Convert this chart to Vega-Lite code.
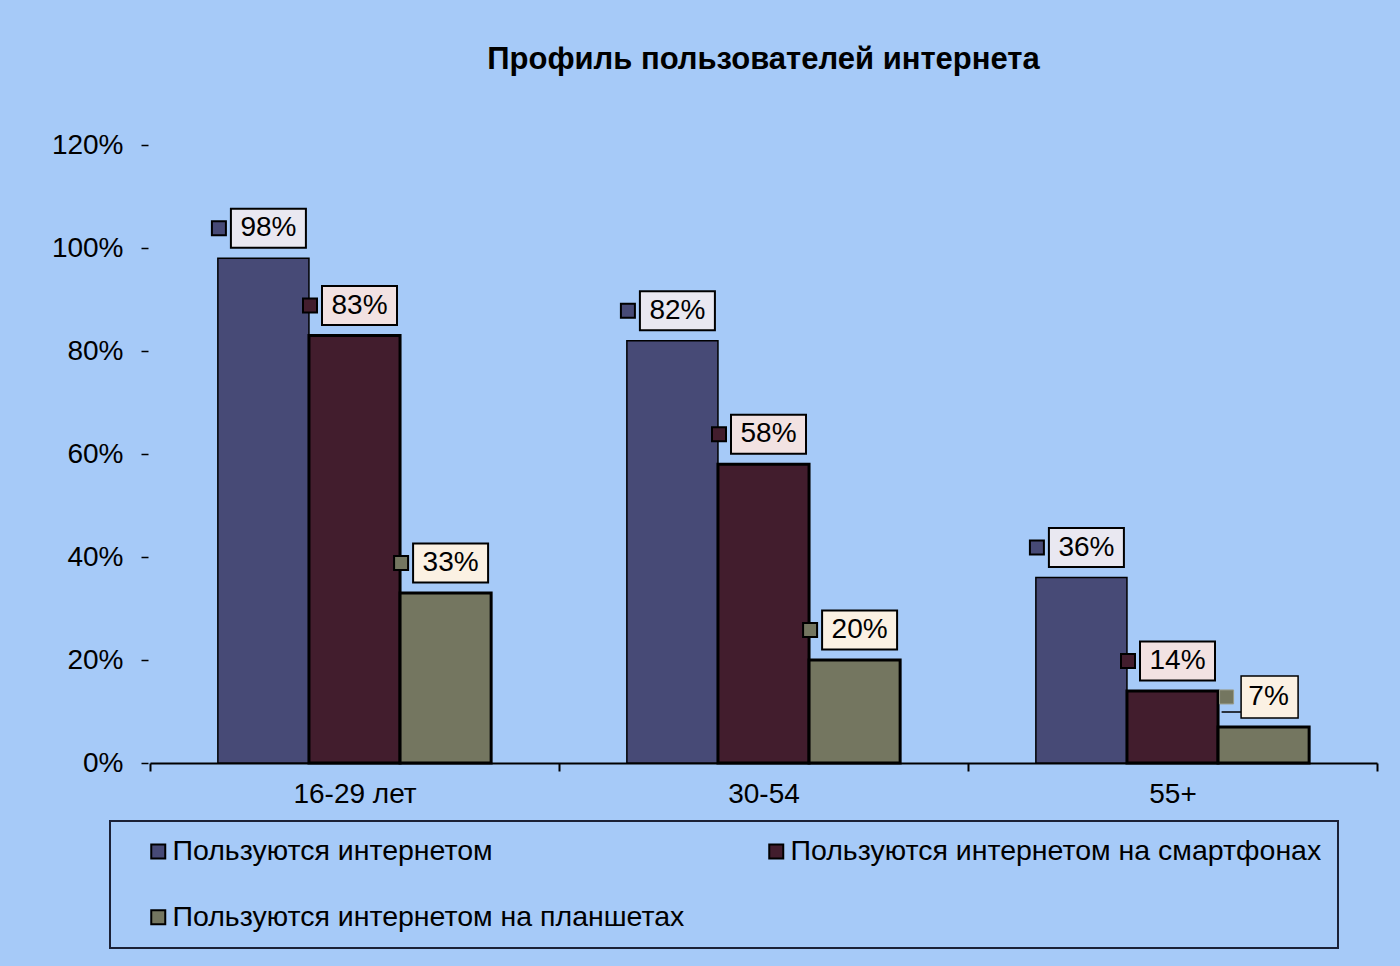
{
  "$schema": "https://vega.github.io/schema/vega-lite/v6.json",
  "width": 1227,
  "height": 618,
  "autosize": {"type": "none"},
  "padding": {"left": 150, "top": 145, "right": 23, "bottom": 203},
  "background": "#A6CAF8",
  "title": {
    "text": "Профиль пользователей интернета",
    "fontSize": 31,
    "fontWeight": "bold",
    "color": "#000000",
    "anchor": "middle",
    "frame": "group",
    "offset": 55
  },
  "data": {
    "values": [
      {"group": "16-29 лет", "series": "Пользуются интернетом", "value": 0.98},
      {"group": "16-29 лет", "series": "Пользуются интернетом на смартфонах", "value": 0.83},
      {"group": "16-29 лет", "series": "Пользуются интернетом на планшетах", "value": 0.33},
      {"group": "30-54", "series": "Пользуются интернетом", "value": 0.82},
      {"group": "30-54", "series": "Пользуются интернетом на смартфонах", "value": 0.58},
      {"group": "30-54", "series": "Пользуются интернетом на планшетах", "value": 0.20},
      {"group": "55+", "series": "Пользуются интернетом", "value": 0.36},
      {"group": "55+", "series": "Пользуются интернетом на смартфонах", "value": 0.14},
      {"group": "55+", "series": "Пользуются интернетом на планшетах", "value": 0.07}
    ]
  },
  "encoding": {
    "x": {
      "field": "group",
      "type": "nominal",
      "sort": null,
      "scale": {"paddingInner": 0, "paddingOuter": 0},
      "axis": {
        "title": null,
        "labelAngle": 0,
        "labelFontSize": 28,
        "labelColor": "#000000",
        "labelPadding": 9,
        "domainColor": "#000000",
        "domainWidth": 2,
        "tickColor": "#000000",
        "tickWidth": 2,
        "tickSize": 8,
        "tickBand": "extent"
      }
    },
    "xOffset": {
      "field": "series",
      "type": "nominal",
      "sort": null,
      "scale": {"paddingInner": 0, "paddingOuter": 0.745}
    },
    "y": {
      "field": "value",
      "type": "quantitative",
      "scale": {"domain": [0, 1.2], "nice": false},
      "axis": {
        "title": null,
        "format": ".0%",
        "values": [0, 0.2, 0.4, 0.6, 0.8, 1.0, 1.2],
        "labelFontSize": 28,
        "labelColor": "#000000",
        "labelPadding": 18,
        "offset": 2,
        "tickSize": 7,
        "tickColor": "#000000",
        "tickWidth": 1.5,
        "domain": false,
        "grid": false
      }
    }
  },
  "layer": [
    {
      "mark": {"type": "bar", "stroke": "#000000"},
      "encoding": {
        "strokeWidth": {
          "condition": {"test": "datum.series === 'Пользуются интернетом'", "value": 1.5},
          "value": 3
        },
        "fill": {
          "field": "series",
          "type": "nominal",
          "sort": null,
          "scale": {
            "domain": ["Пользуются интернетом", "Пользуются интернетом на смартфонах", "Пользуются интернетом на планшетах"],
            "range": ["#474A76", "#421D2D", "#747660"]
          },
          "legend": {
            "title": null,
            "values": ["Пользуются интернетом", "Пользуются интернетом на планшетах", "Пользуются интернетом на смартфонах"],
            "orient": "none",
            "legendX": -40,
            "legendY": 676,
            "columns": 2,
            "columnPadding": 59,
            "rowPadding": 37,
            "padding": 16,
            "symbolOffset": 18,
            "labelOffset": 0,
            "symbolType": "square",
            "symbolSize": 196,
            "symbolStrokeColor": "#000000",
            "symbolStrokeWidth": 2,
            "labelFontSize": 28.5,
            "labelColor": "#000000",
            "labelLimit": 0,
            "strokeColor": "#1B2136",
            "encode": {"legend": {"update": {"strokeWidth": {"value": 2}}}}
          }
        }
      }
    },
    {
      "transform": [{"filter": "datum.value >= 0.1"}],
      "mark": {
        "type": "point",
        "filled": true,
        "opacity": 1,
        "size": 4,
        "shape": "M-32.5,-19.5H42.5V19.5H-32.5Z",
        "stroke": "#000000",
        "strokeWidth": 2,
        "yOffset": -30
      },
      "encoding": {
        "fill": {
          "condition": [
            {"test": "datum.series === 'Пользуются интернетом'", "value": "#E9E8F1"},
            {"test": "datum.series === 'Пользуются интернетом на смартфонах'", "value": "#F2E2E2"}
          ],
          "value": "#FBF1E3"
        }
      }
    },
    {
      "transform": [{"filter": "datum.value < 0.1"}],
      "mark": {
        "type": "point",
        "filled": true,
        "opacity": 1,
        "size": 4,
        "shape": "M-22.5,-21H34.5V21H-22.5Z M-42,15H-22.5",
        "stroke": "#000000",
        "strokeWidth": 1.5,
        "yOffset": -30
      },
      "encoding": {
        "fill": {"value": "#FBF1E3"}
      }
    },
    {
      "transform": [{"filter": "datum.value >= 0.1"}],
      "mark": {
        "type": "point",
        "filled": true,
        "opacity": 1,
        "size": 4,
        "shape": "M-51.5,-7H-37.5V7H-51.5Z",
        "stroke": "#000000",
        "strokeWidth": 2,
        "yOffset": -30
      },
      "encoding": {
        "fill": {
          "condition": [
            {"test": "datum.series === 'Пользуются интернетом'", "value": "#474A76"},
            {"test": "datum.series === 'Пользуются интернетом на смартфонах'", "value": "#421D2D"}
          ],
          "value": "#747660"
        }
      }
    },
    {
      "transform": [{"filter": "datum.value < 0.1"}],
      "mark": {
        "type": "point",
        "filled": true,
        "opacity": 1,
        "size": 4,
        "shape": "M-44,-7H-30V7H-44Z",
        "stroke": "#9A9C88",
        "strokeWidth": 1,
        "yOffset": -30
      },
      "encoding": {
        "fill": {"value": "#747660"}
      }
    },
    {
      "mark": {
        "type": "text",
        "fontSize": 28,
        "color": "#000000",
        "baseline": "middle",
        "align": "center",
        "dx": 5,
        "dy": -30
      },
      "encoding": {
        "text": {"field": "value", "type": "quantitative", "format": ".0%"}
      }
    }
  ],
  "config": {
    "font": "Liberation Sans",
    "view": {"stroke": null}
  }
}
